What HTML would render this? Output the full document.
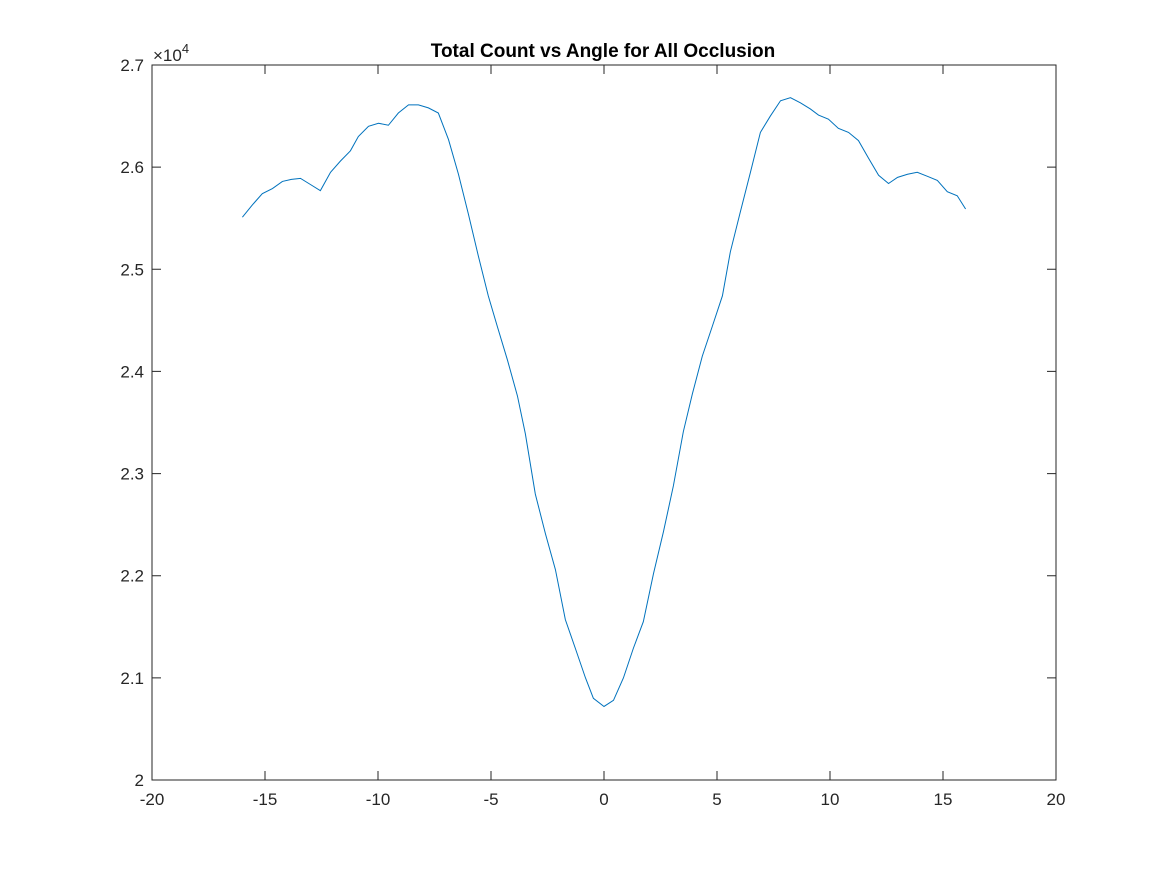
<!DOCTYPE html>
<html><head><meta charset="utf-8"><style>
body{margin:0;background:#fff;}
svg{display:block;font-family:"Liberation Sans",Arial,sans-serif;}
</style></head><body>
<svg id="chart" width="1167" height="875" viewBox="0 0 1167 875">
<rect width="1167" height="875" fill="#fff"/>
<g id="axes"></g>
<g id="plot"></g>
<text x="603" y="57" text-anchor="middle" font-weight="bold" font-size="19" fill="#000">Total Count vs Angle for All Occlusion</text>
<text x="153" y="61" font-size="17" fill="#262626">×10<tspan dy="-8" font-size="13">4</tspan></text>
</svg>
<script>
const angles = [-16.0,-15.56,-15.12,-14.67,-14.23,-13.83,-13.43,-12.99,-12.55,-12.1,-11.66,-11.22,-10.87,-10.42,-9.98,-9.54,-9.1,-8.65,-8.21,-7.77,-7.33,-6.88,-6.44,-6.0,-5.56,-5.12,-4.72,-4.27,-3.83,-3.48,-3.04,-2.59,-2.15,-1.71,-1.27,-0.82,-0.47,0,
0.42,0.86,1.30,1.74,2.19,2.63,3.07,3.51,3.91,4.35,4.79,5.24,5.59,6.03,6.48,6.92,7.36,7.81,8.25,8.69,9.13,9.49,9.93,10.37,10.82,11.26,11.7,12.15,12.59,12.99,13.43,13.86,14.31,14.75,15.19,15.63,16.0];
const values = [2.551,2.563,2.574,2.579,2.586,2.588,2.589,2.583,2.577,2.595,2.606,2.616,2.630,2.640,2.643,2.641,2.653,2.661,2.661,2.658,2.653,
2.627,2.593,2.554,2.513,2.474,2.444,2.411,2.376,2.339,2.280,2.241,2.206,2.157,2.129,2.100,2.080,2.072,
2.078,2.100,2.129,2.155,2.202,2.243,2.288,2.341,2.378,2.415,2.444,2.474,2.517,2.556,2.595,2.634,2.650,2.665,2.668,2.663,2.657,2.651,2.647,2.638,2.634,2.626,2.609,2.592,2.584,2.590,2.593,2.595,2.591,2.587,2.576,2.572,2.559];
const xTicks = [-20,-15,-10,-5,0,5,10,15,20];
const yTicks = [2,2.1,2.2,2.3,2.4,2.5,2.6,2.7];
const yTickLabels = ["2","2.1","2.2","2.3","2.4","2.5","2.6","2.7"];

const L=152,R=1056,T=65,B=780;
const xs = v => L + (v+20)/40*(R-L);
const ys = v => B - (v-2)/0.7*(B-T);
const NS="http://www.w3.org/2000/svg";
const axes=document.getElementById('axes'), plot=document.getElementById('plot');
function mk(tag,attrs,parent){const e=document.createElementNS(NS,tag);for(const k in attrs)e.setAttribute(k,attrs[k]);parent.appendChild(e);return e;}
const box=mk('rect',{x:L,y:T,width:R-L,height:B-T,fill:'none',stroke:'#262626','stroke-width':1},axes);


xTicks.forEach(t=>{
  const x=xs(t);
  const tk=mk('path',{d:`M${x},${B}v-9M${x},${T}v9`,stroke:'#262626','stroke-width':1},axes);
  
  
  const lb=mk('text',{x:x,y:B+25,'text-anchor':'middle','font-size':17,fill:'#262626'},axes);
  lb.textContent=String(t);
  
  
});
yTicks.forEach((t,i)=>{
  const y=ys(t);
  const tk=mk('path',{d:`M${L},${y}h9M${R},${y}h-9`,stroke:'#262626','stroke-width':1},axes);
  
  
  const lb=mk('text',{x:L-8,y:y+6,'text-anchor':'end','font-size':17,fill:'#262626'},axes);
  lb.textContent=yTickLabels[i];
  
  
});
const pts=values.map((v,i)=>xs(angles[i]).toFixed(2)+','+ys(v).toFixed(2)).join(' ');
const line=mk('polyline',{points:pts,fill:'none',stroke:'#0072BD','stroke-width':1},plot);


</script>
</body></html>
